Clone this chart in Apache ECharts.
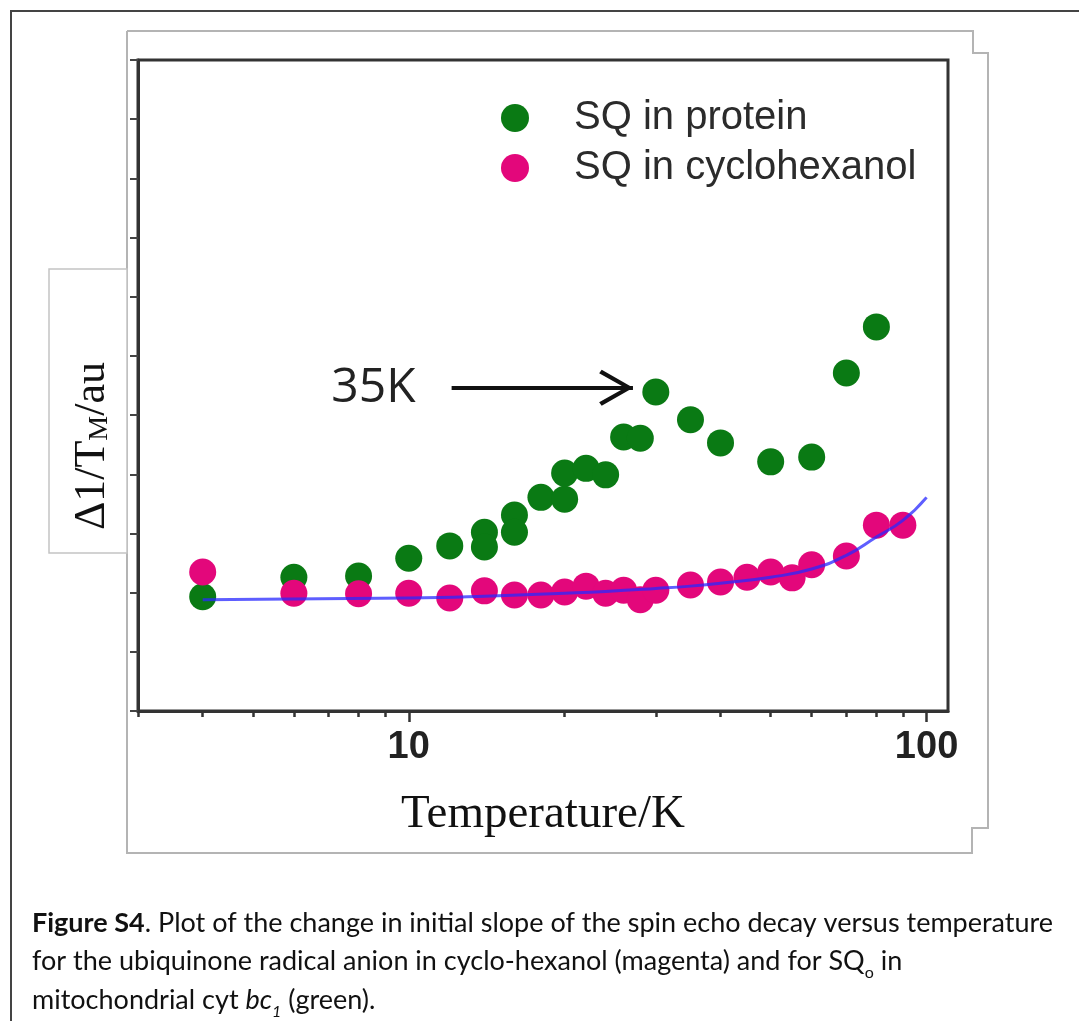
<!DOCTYPE html>
<html>
<head>
<meta charset="utf-8">
<title>Figure S4</title>
<script src="https://cdn.jsdelivr.net/npm/echarts@6.0.0/dist/echarts.min.js"></script>
<style>
  html, body { margin: 0; padding: 0; background: #fff; }
  #chart { width: 1079px; height: 1021px; }
</style>
</head>
<body>
<div id="chart"></div>
<script>
// SQ in protein (green) - temperature / value, some temps measured twice
const proteinT = [4, 6, 8, 10, 12, 14, 14, 16, 16, 18, 20, 20, 22, 24, 26, 28, 30, 35, 40, 50, 60, 70, 80]
const proteinV = [1.93, 2.26, 2.28, 2.58, 2.79, 3.02, 2.77, 3.31, 3.02, 3.61, 3.58, 4.02, 4.10, 3.99, 4.63, 4.61, 5.39, 4.92, 4.53, 4.21, 4.29, 5.71, 6.49]

// SQ in cyclohexanol (magenta)
const cycloT = [4, 6, 8, 10, 12, 14, 16, 18, 20, 22, 24, 26, 28, 30, 35, 40, 45, 50, 55, 60, 70, 80, 90]
const cycloV = [2.35, 1.99, 1.98, 1.99, 1.91, 2.03, 1.96, 1.96, 2.01, 2.11, 1.99, 2.04, 1.88, 2.04, 2.13, 2.18, 2.26, 2.35, 2.25, 2.47, 2.62, 3.14, 3.14]

// blue fit curve
const fitT = [4, 10, 14, 20, 24, 30, 35, 40, 50, 60, 70, 80, 90, 100]
const fitV = [1.88, 1.91, 1.94, 1.99, 2.02, 2.07, 2.11, 2.16, 2.26, 2.40, 2.63, 2.94, 3.22, 3.61]

// axis ticks
const majorTicks = [10, 100]
const minorTicks = [3, 4, 5, 6, 7, 8, 9, 20, 30, 40, 50, 60, 70, 80, 90]

// arrow annotation "35K"
const arrowFrom = [12.1, 5.46]
const arrowTo = [27.1, 5.46]
const headFrom = [23.4, 5.46]
const headAt = [25.15, 5.46]

const GREEN = '#0a7a14'
const MAGENTA = '#e3077b'
const chevron = 'path://M18,0 L36,31 L32.5,33.5 L18,8 L3.5,33.5 L0,31 Z'

const zip = (xs, ys) => xs.map((x, i) => [x, ys[i]])

const chart = echarts.init(document.getElementById('chart'))

const option = {
  animation: false,
  backgroundColor: '#ffffff',
  grid: {
    left: 138, top: 60, right: 131, bottom: 310,
    show: true, borderColor: '#333', borderWidth: 3
  },
  legend: {
    data: ['SQ in protein', 'SQ in cyclohexanol'],
    orient: 'vertical',
    left: 496, top: 93,
    itemWidth: 108, itemHeight: 28, itemGap: 10,
    textStyle: { fontSize: 40, lineHeight: 40, color: '#2b2b2b', fontFamily: 'Liberation Sans' }
  },
  xAxis: [
    {
      type: 'log', logBase: 10, min: 3, max: 110,
      name: 'Temperature/K', nameLocation: 'middle', nameGap: 80,
      nameTextStyle: { fontFamily: 'Liberation Serif', fontSize: 47, color: '#111' },
      axisLine: { lineStyle: { color: '#333', width: 3 } },
      axisTick: { customValues: majorTicks, length: 11, lineStyle: { color: '#333', width: 2.5 } },
      axisLabel: {
        customValues: majorTicks, margin: 18, fontSize: 38, fontWeight: 'bold',
        color: '#222', fontFamily: 'Liberation Sans'
      },
      splitLine: { show: false }
    },
    {
      type: 'log', logBase: 10, min: 3, max: 110, position: 'bottom',
      axisLine: { show: false },
      axisTick: { customValues: minorTicks, length: 6, lineStyle: { color: '#333', width: 2.5 } },
      axisLabel: { show: false },
      splitLine: { show: false }
    }
  ],
  yAxis: {
    type: 'value', min: 0, max: 11, interval: 1,
    axisLine: { show: true, lineStyle: { color: '#333', width: 3 } },
    axisTick: { show: true, length: 8, lineStyle: { color: '#444', width: 2 } },
    axisLabel: { show: false },
    splitLine: { show: false }
  },
  series: [
    {
      name: 'SQ in protein',
      type: 'scatter',
      symbolSize: 27,
      itemStyle: { color: GREEN, opacity: 1 },
      data: zip(proteinT, proteinV),
      z: 2,
      markLine: {
        silent: true,
        lineStyle: { color: '#111', width: 4, type: 'solid' },
        data: [
          [
            {
              coord: arrowFrom, symbol: 'none',
              label: {
                show: true, position: 'start', formatter: '35K', distance: 36,
                fontSize: 48, color: '#222', fontFamily: 'Open Sans'
              }
            },
            { coord: arrowTo, symbol: 'none' }
          ],
          [
            { coord: headFrom, symbol: 'none', label: { show: false } },
            { coord: headAt, symbol: chevron, symbolSize: [36, 34], label: { show: false } }
          ]
        ]
      }
    },
    {
      name: 'SQ in cyclohexanol',
      type: 'scatter',
      symbolSize: 27,
      itemStyle: { color: MAGENTA, opacity: 1 },
      data: zip(cycloT, cycloV),
      z: 3
    },
    {
      name: 'fit',
      type: 'line',
      smooth: true,
      showSymbol: false,
      lineStyle: { color: 'rgba(40, 40, 255, 0.75)', width: 3 },
      data: zip(fitT, fitV),
      z: 4
    }
  ],
  graphic: [
    // outer page frame
    {
      type: 'rect', silent: true, z: -10,
      shape: { x: 11, y: 11, width: 1100, height: 1100 },
      style: { fill: 'none', stroke: '#444', lineWidth: 2 }
    },
    // grey outline of the pasted image
    {
      type: 'polyline', silent: true, z: -9,
      shape: {
        points: [[127, 31], [973, 31], [973, 53], [988, 53], [988, 828], [972, 828], [972, 853], [127, 853], [127, 31]]
      },
      style: { fill: 'none', stroke: '#b4b4b4', lineWidth: 2 }
    },
    // box behind the y axis title
    {
      type: 'rect', silent: true, z: -8,
      shape: { x: 49, y: 269, width: 78, height: 284 },
      style: { fill: '#fff', stroke: '#c4c4c4', lineWidth: 1.5 }
    },
    {
      type: 'text', silent: true, z: 10,
      x: 92, y: 446, rotation: Math.PI / 2,
      style: {
        text: '{n|Δ1/T}{s|M}{n|/au}',
        align: 'center', verticalAlign: 'middle',
        fill: '#111',
        rich: {
          n: { fontSize: 44, fontFamily: 'Liberation Serif', fill: '#111' },
          s: { fontSize: 28, fontFamily: 'Liberation Serif', fill: '#111', verticalAlign: 'bottom' }
        }
      }
    },
    // figure caption
    {
      type: 'text', silent: true,
      x: 32, y: 904,
      style: {
        text: '{b|Figure S4}. Plot of the change in initial slope of the spin echo decay versus temperature\n' +
          'for the ubiquinone radical anion in cyclo-hexanol (magenta) and for SQ{sub|o} in\n' +
          'mitochondrial cyt {i|bc}{isub|1} (green).',
        align: 'left', verticalAlign: 'top',
        fontSize: 27, fontFamily: 'Lato', fill: '#111', lineHeight: 38.5,
        rich: {
          b: { fontSize: 27, fontFamily: 'Lato', fontWeight: 'bold', fill: '#111', lineHeight: 38.5 },
          sub: { fontSize: 16, fontFamily: 'Lato', fill: '#111', verticalAlign: 'bottom', lineHeight: 32 },
          i: { fontSize: 27, fontFamily: 'Lato', fontStyle: 'italic', fill: '#111', lineHeight: 38.5 },
          isub: { fontSize: 16, fontFamily: 'Lato', fontStyle: 'italic', fill: '#111', verticalAlign: 'bottom', lineHeight: 32 }
        }
      }
    }
  ]
}

chart.setOption(option)
</script>
</body>
</html>
